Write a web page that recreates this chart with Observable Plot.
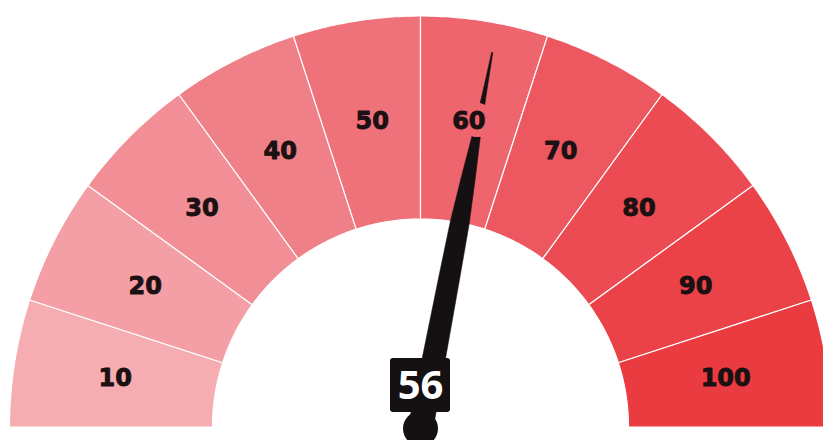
<!DOCTYPE html>
<html>
<head>
<meta charset="utf-8">
<script src="https://cdn.jsdelivr.net/npm/d3@7"></script>
<script src="https://cdn.jsdelivr.net/npm/@observablehq/plot@0.6"></script>
<style>
  html, body { margin: 0; padding: 0; background: #ffffff; }
  #chart svg { display: block; }
</style>
</head>
<body>
<div id="chart"></div>
<script>
// Gauge bands: label, value range and fill colour
const bandLabels = ["10", "20", "30", "40", "50", "60", "70", "80", "90", "100"];
const bandFrom = [0, 10, 20, 30, 40, 50, 60, 70, 80, 90];
const bandTo = [10, 20, 30, 40, 50, 60, 70, 80, 90, 100];
const bandColors = ["#f6adb2", "#f49fa5", "#f28f96", "#f08088", "#ef727a", "#ee656d", "#ed5760", "#ec4b53", "#eb4248", "#ea3b40"];

// Current reading
const gaugeValue = 56;

// Layout (pixels)
const W = 823, H = 440;
const CX = 420, CY = 426.5;
const R_OUT = 411, R_IN = 208, R_LABEL = 309;
const PIVOT = {x: 0, y: -1.5};
// needle profile: [distance from pivot, half width]
const needleProfile = [[0, 12.5], [70, 11.5], [150, 10.5], [210, 9.5], [255, 7], [300, 4], [340, 2], [383, 0.6]];

const angle = (v) => Math.PI * (1 - v / 100);

// Band polygons: outer arc then inner arc back
const bandPoints = [];
bandLabels.forEach((label, i) => {
  const steps = 36;
  const a0 = angle(bandFrom[i]), a1 = angle(bandTo[i]);
  for (let k = 0; k <= steps; k++) {
    const a = a0 + (a1 - a0) * k / steps;
    bandPoints.push({label, x: R_OUT * Math.cos(a), y: R_OUT * Math.sin(a)});
  }
  for (let k = steps; k >= 0; k--) {
    const a = a0 + (a1 - a0) * k / steps;
    bandPoints.push({label, x: R_IN * Math.cos(a), y: R_IN * Math.sin(a)});
  }
});

// Band labels at the middle of each band
const labelPoints = bandLabels.map((label, i) => {
  const a = angle((bandFrom[i] + bandTo[i]) / 2);
  return {label, color: bandColors[i], x: R_LABEL * Math.cos(a), y: R_LABEL * Math.sin(a)};
});

// Needle polygon pointing at the reading
const na = angle(gaugeValue);
const ux = Math.cos(na), uy = Math.sin(na);
const nx = -uy, ny = ux;
const needlePoints = [
  ...needleProfile.map(([d, w]) => ({x: PIVOT.x + ux * d + nx * w, y: PIVOT.y + uy * d + ny * w})),
  ...needleProfile.slice().reverse().map(([d, w]) => ({x: PIVOT.x + ux * d - nx * w, y: PIVOT.y + uy * d - ny * w}))
];

const readout = [{value: gaugeValue}];

const labelFont = {fontFamily: "DejaVu Sans", fontSize: 24, fontWeight: "bold"};

const chart = Plot.plot({
  width: W,
  height: H,
  margin: 0,
  style: {background: "#ffffff", overflow: "hidden"},
  x: {domain: [-CX, W - CX], range: [0, W], axis: null},
  y: {domain: [-(H - CY), CY], range: [H, 0], axis: null},
  color: {domain: bandLabels, range: bandColors},
  marks: [
    Plot.line(bandPoints, {
      x: "x", y: "y", z: "label", fill: "label",
      stroke: "#ffffff", strokeWidth: 1.2, curve: "linear-closed"
    }),
    Plot.line(needlePoints, {
      x: "x", y: "y", fill: "#151012", stroke: "#151012", strokeWidth: 0.5, curve: "linear-closed"
    }),
    // halo in the band colour so the needle passes behind the labels
    Plot.text(labelPoints, {
      x: "x", y: "y", text: "label", ...labelFont,
      fill: (d) => d.color, stroke: (d) => d.color, strokeWidth: 16, strokeLinejoin: "round"
    }),
    Plot.text(labelPoints, {
      x: "x", y: "y", text: "label", ...labelFont,
      fill: "#1b1012", stroke: "#1b1012", strokeWidth: 0.9, strokeLinejoin: "round"
    }),
    Plot.dot([PIVOT], {x: "x", y: "y", r: 17.5, fill: "#151012", stroke: null}),
    Plot.rect(readout, {
      x1: () => -30, x2: () => 30,
      y1: () => CY - 412, y2: () => CY - 358,
      rx: 3, fill: "#151012"
    }),
    Plot.text(readout, {
      x: () => 0, y: () => CY - 386,
      text: (d) => String(d.value),
      fontFamily: "Open Sans", fontSize: 40, fontWeight: 700, fill: "#ffffff"
    })
  ]
});

document.getElementById("chart").appendChild(chart);
</script>
</body>
</html>
